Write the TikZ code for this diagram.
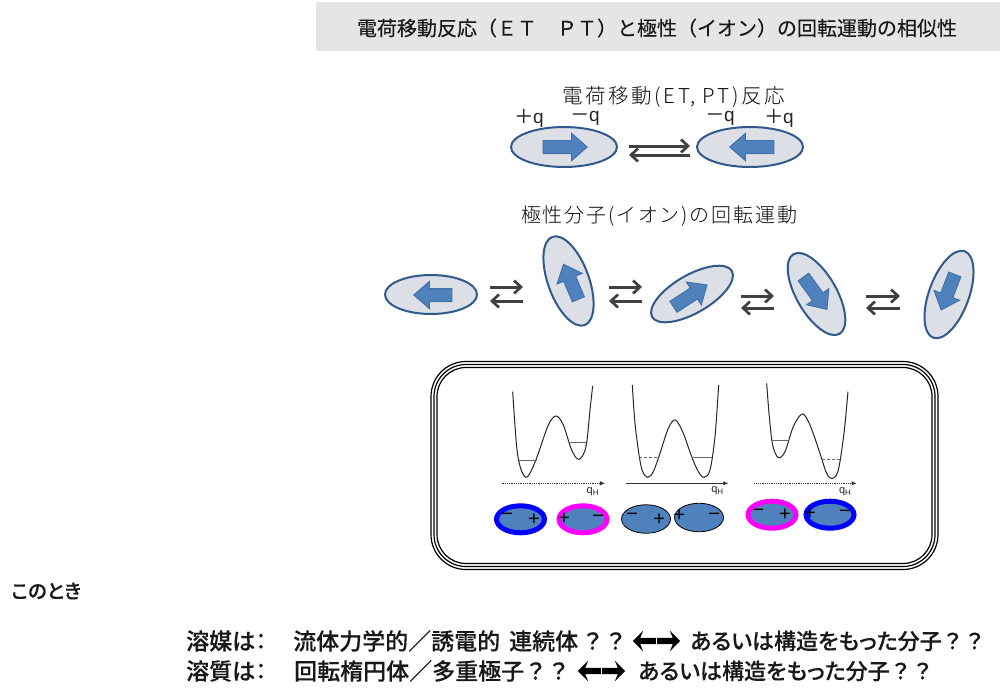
\documentclass[tikz,border=0pt]{standalone}
\usepackage{fontspec}
\setmainfont{Liberation Sans}
\newfontfamily\jp{Noto Sans CJK JP}
\newfontfamily\jpmed[FakeBold=0.25]{Noto Sans CJK JP}
\newfontfamily\jppal[RawFeature=+palt,FakeBold=0.2]{Noto Sans CJK JP Medium}
\newfontfamily\jpfull[FakeBold=0.2]{Noto Sans CJK JP Medium}
\newfontfamily\jpthinA[LetterSpace=13]{Noto Sans CJK JP Light}
\newfontfamily\jpthinB[LetterSpace=9]{Noto Sans CJK JP Light}
\usetikzlibrary{shapes.geometric,shapes.arrows,arrows.meta}
\definecolor{elfill}{HTML}{DCDFE5}
\definecolor{elline}{HTML}{31598C}
\definecolor{arfill}{HTML}{4F81BD}
\definecolor{arline}{HTML}{4272AC}
\definecolor{eqcol}{HTML}{404040}
\definecolor{magn}{HTML}{FF00FF}
\definecolor{blu}{HTML}{0000FF}
\tikzset{
  mol/.style={ellipse,draw=elline,fill=elfill,line width=2pt,inner sep=0pt,minimum width=2*#1},
  dip/.style={single arrow,draw=arline,fill=arfill,line width=1pt,inner sep=0pt,minimum width=24pt,single arrow head indent=0pt,single arrow tip angle=82,minimum height=#1},
  eqarrow/.style={line width=3pt,draw=eqcol,-{Straight Barb[length=7pt,width=13pt,line width=2.7pt]}},
  small/.style={ellipse,fill=arfill,inner sep=0pt,minimum width=48pt,minimum height=27pt},
  sign/.style={font=\fontsize{20}{20}\selectfont,inner sep=0pt,text=black},
  curve/.style={line width=1pt,draw=black!85},
  lvl/.style={line width=.8pt,draw=black!60},
  axis/.style={line width=.8pt,draw=black!80,-{Latex[length=5pt,width=4.5pt]}},
  qh/.style={font=\fontsize{11}{11}\selectfont,inner sep=0pt,text=black!85},
  boldjp/.style={font=\jppal\fontsize{23}{25}\selectfont,inner sep=0pt,anchor=west,text=black!90},
  boldkana/.style={font=\jppal\fontsize{22}{25}\selectfont,inner sep=0pt,anchor=west,text=black!90},
  chg/.style={font=\fontsize{19}{19}\selectfont,inner sep=0pt,text=black!85},
  heavy arrow/.style={single arrow,fill=black,inner sep=0pt,minimum width=17pt,minimum height=23pt,single arrow head indent=3pt},
  framebox/.style={draw=black,line width=1.2pt,inner sep=0pt},
}
\newcommand{\shaft}{\rule{0pt}{12pt}}
\newcommand{\qq}{{\jpfull ？？}}
\newcommand{\eqpair}[5]{% name, x1, x2, ytop, ybot
  \coordinate (#1a) at (#2,#4); \coordinate (#1b) at (#3,#4);
  \coordinate (#1c) at (#3,#5); \coordinate (#1d) at (#2,#5);
  \draw[eqarrow] (#1a) -- (#1b);
  \draw[eqarrow] (#1c) -- (#1d);
}
\newcommand{\qhlabel}[3]{\node[qh] (#1) at (#2,#3) {q\raisebox{-2pt}{\fontsize{8}{8}\selectfont H}};}
\begin{document}
\begin{tikzpicture}[x=1pt,y=-1pt]
\useasboundingbox (0,0) rectangle (1000,693);
\node[fill=black!10,minimum width=684pt,minimum height=49pt,inner sep=0pt,anchor=north west] (bar) at (316,2) {};
\node[font=\jpmed\fontsize{20}{22}\selectfont,inner sep=0pt,text=black!90] (title) at (657,28) {電荷移動反応（ＥＴ　ＰＴ）と極性（イオン）の回転運動の相似性};
\node[font=\jpthinA\fontsize{20.5}{22}\selectfont,inner sep=0pt,text=black!95] (t1) at (673.5,97) {電荷移動(ET, PT)反応};
\node[font=\jpthinB\fontsize{20}{22}\selectfont,inner sep=0pt,text=black!95] (t2) at (659,216) {極性分子(イオン)の回転運動};
\node[chg] (q1) at (529,118) {{\jpmed ＋}q};
\node[chg] (q2) at (585,118) {{\jpmed －}q};
\node[chg] (q3) at (720,118) {{\jpmed －}q};
\node[chg] (q4) at (779,118) {{\jpmed ＋}q};
% ET molecules
\node[mol=53pt,minimum height=40pt] (m1) at (564,147) {};
\node[dip=44pt] (a1) at (561.5,147) {\shaft};
\node[mol=53pt,minimum height=40pt] (m2) at (750,147) {};
\node[dip=44pt,rotate=180] (a2) at (755.5,147) {\shaft};
\eqpair{e0}{629}{690}{146}{155}
% Rotating molecules
\node[mol=46pt,minimum height=39pt] (r1) at (431,294.5) {};
\node[dip=38pt,rotate=180] (b1) at (436.5,295) {\shaft};
\node[mol=47pt,minimum height=41pt,rotate=-70] (r2) at (568.5,281) {};
\node[dip=38pt,rotate=113] (b2) at (572.4,285.2) {\shaft};
\node[mol=46pt,minimum height=38pt,rotate=30] (r3) at (692,294) {};
\node[dip=40pt,rotate=33] (b3) at (687.1,297.9) {\shaft};
\node[mol=46pt,minimum height=40pt,rotate=-60] (r4) at (816.5,294) {};
\node[dip=40pt,rotate=-54] (b4) at (813,290.2) {\shaft};
\node[mol=46pt,minimum height=40pt,rotate=70] (r5) at (949,294.5) {};
\node[dip=38pt,rotate=249] (b5) at (949.3,288.7) {\shaft};
\eqpair{e1}{490}{523}{287}{301}
\eqpair{e2}{609}{642}{287}{301}
\eqpair{e3}{741}{774}{296}{308}
\eqpair{e4}{866}{900}{296}{308}
% Frame
\node[framebox,rounded corners=35pt,minimum width=507pt,minimum height=208pt] (frame1) at (684.5,465.5) {};
\node[framebox,rounded corners=32pt,minimum width=501pt,minimum height=202pt] (frame2) at (684.5,465.5) {};
\node[framebox,rounded corners=29pt,minimum width=495pt,minimum height=196pt] (frame3) at (684.5,465.5) {};
% Potential curves
\begin{scope}[shift={(480,370)},x=.3333pt,y=-.3333pt]
\draw[curve] plot[smooth,tension=.55] coordinates {(98,65)(110,230)(122,295)(138,322)(155,300)(175,250)(205,165)(228,138)(250,165)(275,240)(297,268)(318,230)(330,120)(338,48)};
\draw[lvl] (118,270) -- (170,270);
\draw[lvl] (268,216) -- (318,216);
\draw[curve] plot[smooth,tension=.55] coordinates {(457,45)(465,160)(478,260)(488,305)(503,322)(520,305)(540,250)(565,175)(586,150)(610,190)(635,260)(655,305)(672,322)(690,300)(705,200)(716,45)};
\draw[lvl,densely dashed] (478,263) -- (530,263);
\draw[lvl] (640,263) -- (695,263);
\draw[curve] plot[smooth,tension=.55] coordinates {(860,40)(868,140)(878,225)(895,263)(915,245)(940,170)(967,132)(990,165)(1020,250)(1040,310)(1057,326)(1075,300)(1092,190)(1104,65)};
\draw[lvl] (875,211) -- (925,211);
\draw[lvl,densely dashed] (1025,269) -- (1080,269);
\coordinate (x1a) at (65,340); \coordinate (x1b) at (375,340);
\coordinate (x2a) at (438,340); \coordinate (x2b) at (745,340);
\coordinate (x3a) at (823,340); \coordinate (x3b) at (1130,340);
\draw[axis,densely dotted] (x1a) -- (x1b);
\draw[axis] (x2a) -- (x2b);
\draw[axis,densely dotted] (x3a) -- (x3b);
\qhlabel{h1}{338}{365}
\qhlabel{h2}{712}{362}
\qhlabel{h3}{1095}{365}
\end{scope}
% Small dipoles
\node[small,draw=blu,line width=5pt] (s1) at (520.5,519.3) {};
\node[small,draw=magn,line width=5pt] (s2) at (583,519.3) {};
\node[small,draw=black,line width=.8pt,minimum width=49pt,minimum height=28.5pt] (s3) at (646,519) {};
\node[small,draw=black,line width=.8pt,minimum width=49pt,minimum height=28.5pt] (s4) at (699,517.5) {};
\node[small,draw=magn,line width=5pt] (s5) at (772,514.7) {};
\node[small,draw=blu,line width=5pt] (s6) at (830,514.7) {};
\begin{scope}[shift={(480,370)},x=.3333pt,y=-.3333pt]
\node[sign] (g1) at (82,440) {−};
\node[sign] (g2) at (162,450) {+};
\node[sign] (g3) at (252,445) {+};
\node[sign] (g4) at (355,445) {−};
\node[sign] (g5) at (457,440) {−};
\node[sign] (g6) at (538,448) {+};
\node[sign] (g7) at (598,438) {+};
\node[sign] (g8) at (703,440) {−};
\node[sign] (g9) at (835,427) {−};
\node[sign] (g10) at (915,433) {+};
\node[sign] (g11) at (990,432) {+};
\node[sign] (g12) at (1095,432) {−};
\end{scope}
% Bottom text
\node[font=\jppal\fontsize{19.5}{22}\selectfont,inner sep=0pt,anchor=west,text=black!90] (kono) at (11,591) {このとき};
\node[boldjp] (l1a) at (186,641) {溶媒は：};
\node[boldjp] (l1b) at (293,641) {流体力学的／誘電的\hspace{9pt}連続体\hspace{3pt}\qq};
\node[heavy arrow,rotate=180] (d1l) at (646,641) {\rule{0pt}{6pt}};
\node[heavy arrow] (d1r) at (667,641) {\rule{0pt}{6pt}};
\node[boldkana] (l1c) at (690,641) {あるいは構造をもった分子\qq};
\node[boldjp] (l2a) at (186,671) {溶質は：};
\node[boldjp] (l2b) at (294,671) {回転楕円体／多重極子\qq};
\node[heavy arrow,rotate=180] (d2l) at (591,671) {\rule{0pt}{6pt}};
\node[heavy arrow] (d2r) at (612,671) {\rule{0pt}{6pt}};
\node[boldkana] (l2c) at (638,671) {あるいは構造をもった分子\qq};
\end{tikzpicture}
\end{document}
